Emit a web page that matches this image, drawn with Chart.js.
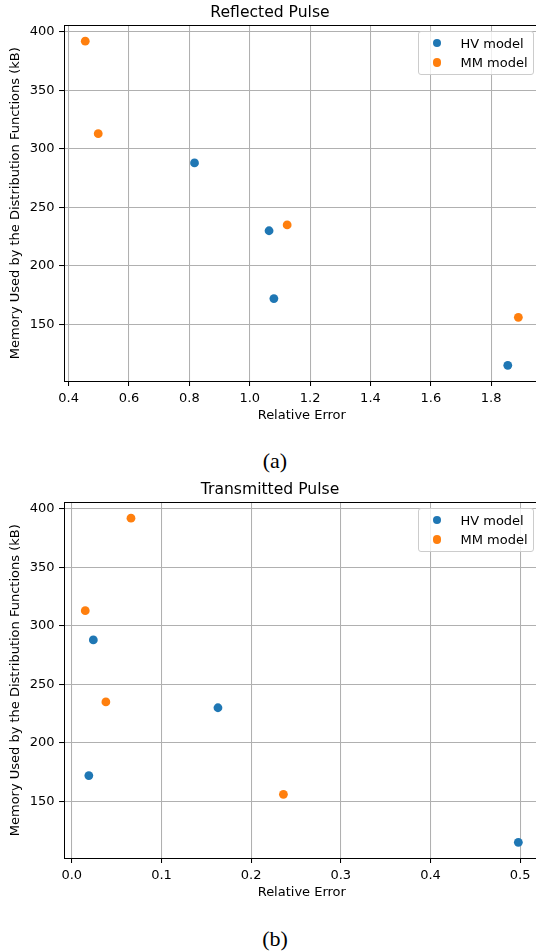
<!DOCTYPE html>
<html>
<head>
<meta charset="utf-8">
<title>Relative Error vs Memory</title>
<script src="https://cdn.jsdelivr.net/npm/chart.js@4.4.1/dist/chart.umd.min.js"></script>
<style>
    html, body {
        margin: 0;
        padding: 0;
        background: #fff;
        overflow: hidden;
    }
    #page {
        position: relative;
        width: 536px;
        height: 952px;
        overflow: hidden;
    }
    .panel {
        position: absolute;
        left: 0;
        width: 604px;
        height: 430px;
    }
    .panel canvas {
        position: absolute;
        left: 0;
        top: 0;
    }
    .legend {
        position: absolute;
        box-sizing: border-box;
        padding: 5px 5px 5px 5.2px;
        background: rgba(255, 255, 255, 0.8);
        border: 1px solid #cccccc;
        border-radius: 3px;
        font-family: 'DejaVu Sans', sans-serif;
        font-size: 13px;
        color: #000;
    }
    .legend-row {
        display: flex;
        align-items: center;
        height: 13.1px;
        line-height: 13.1px;
        white-space: nowrap;
    }
    .legend-row + .legend-row {
        margin-top: 6.5px;
    }
    .legend-handle {
        width: 26px;
        margin-right: 10.4px;
        display: flex;
        justify-content: center;
    }
    .legend-dot {
        width: 8.8px;
        height: 8.8px;
        border-radius: 50%;
    }
    .caption {
        position: absolute;
        left: 0;
        width: 550px;
        text-align: center;
        font-family: 'Liberation Serif', 'DejaVu Serif', serif;
        font-size: 22px;
        line-height: 22px;
        color: #000;
    }
</style>
</head>
<body>
<div id="page">
    <div class="panel" id="panel-a" style="top: 0px;">
        <canvas id="reflectedChart" width="604" height="430"></canvas>
    </div>
    <div class="caption" style="top: 450px;">(a)</div>

    <div class="panel" id="panel-b" style="top: 477px;">
        <canvas id="transmittedChart" width="604" height="430"></canvas>
    </div>
    <div class="caption" style="top: 928px;">(b)</div>
</div>

<script>
// Memory footprint of the distribution functions (kB), same runs in both panels
const memoryHV = [288, 230, 172, 115];
const memoryMM = [392, 313, 235, 156];

// Relative error of the reflected pulse
const reflectedErrorHV = [0.817, 1.064, 1.080, 1.855];
const reflectedErrorMM = [0.455, 0.498, 1.124, 1.890];

// Relative error of the transmitted pulse
const transmittedErrorHV = [0.024, 0.163, 0.019, 0.498];
const transmittedErrorMM = [0.066, 0.015, 0.038, 0.236];

// Tick labels
const memoryTicks = [150, 200, 250, 300, 350, 400];
const reflectedTicks = [0.4, 0.6, 0.8, 1.0, 1.2, 1.4, 1.6, 1.8];
const transmittedTicks = [0.0, 0.1, 0.2, 0.3, 0.4, 0.5];

const seriesNames = ['HV model', 'MM model'];
const seriesColors = ['#1f77b4', '#ff7f0e'];

const FONT = "'DejaVu Sans', sans-serif";
const PT = 1.3; // px per point

// Data limits with a 5% margin on each side
function paddedRange(values) {
    const lo = Math.min(...values);
    const hi = Math.max(...values);
    const pad = (hi - lo) * 0.05;
    return [lo - pad, hi + pad];
}

function toPoints(xs, ys) {
    return xs.map((x, i) => ({ x: x, y: ys[i] }));
}

// Black frame around the plot area, drawn over the markers
const framePlugin = {
    id: 'frame',
    afterDatasetsDraw(chart) {
        const { ctx, chartArea } = chart;
        const l = Math.round(chartArea.left) + 0.5;
        const t = Math.round(chartArea.top) + 0.5;
        const r = Math.round(chartArea.right) - 0.5;
        const b = Math.round(chartArea.bottom) - 0.5;
        ctx.save();
        ctx.strokeStyle = '#000';
        ctx.lineWidth = 1;
        ctx.strokeRect(l, t, r - l, b - t);
        ctx.restore();
    }
};

// Boxed legend in the upper right corner of the plot area
const boxLegendPlugin = {
    id: 'boxLegend',
    afterUpdate(chart) {
        const panel = chart.canvas.parentNode;
        let box = panel.querySelector('.legend');
        if (!box) {
            box = document.createElement('div');
            box.className = 'legend';
            panel.appendChild(box);
        }
        box.innerHTML = '';
        chart.data.datasets.forEach(ds => {
            const row = document.createElement('div');
            row.className = 'legend-row';
            const handle = document.createElement('span');
            handle.className = 'legend-handle';
            const dot = document.createElement('span');
            dot.className = 'legend-dot';
            dot.style.background = ds.backgroundColor;
            handle.appendChild(dot);
            const label = document.createElement('span');
            label.textContent = ds.label;
            row.appendChild(handle);
            row.appendChild(label);
            box.appendChild(row);
        });
        const gap = 0.5 * 13;
        box.style.top = (chart.chartArea.top + gap - 1) + 'px';
        box.style.right = (chart.width - chart.chartArea.right + gap) + 'px';
    }
};

function makeScatter(canvasId, title, errHV, errMM, xTicks) {
    const ctx = document.getElementById(canvasId).getContext('2d');
    const [xMin, xMax] = paddedRange(errHV.concat(errMM));
    const [yMin, yMax] = paddedRange(memoryHV.concat(memoryMM));

    const axisGrid = {
        color: '#b0b0b0',
        lineWidth: 0.8 * PT,
        tickColor: '#000',
        tickWidth: 0.8 * PT,
        tickLength: 3.5 * PT,
        drawTicks: true
    };

    return new Chart(ctx, {
        type: 'scatter',
        data: {
            datasets: [
                {
                    label: seriesNames[0],
                    data: toPoints(errHV, memoryHV),
                    backgroundColor: seriesColors[0],
                    borderWidth: 0,
                    pointRadius: 4.4,
                    pointHoverRadius: 4.4
                },
                {
                    label: seriesNames[1],
                    data: toPoints(errMM, memoryMM),
                    backgroundColor: seriesColors[1],
                    borderWidth: 0,
                    pointRadius: 4.4,
                    pointHoverRadius: 4.4
                }
            ]
        },
        options: {
            responsive: false,
            animation: false,
            devicePixelRatio: 1,
            layout: {
                padding: { left: 0, top: 0, right: 64, bottom: 0 }
            },
            plugins: {
                legend: { display: false },
                tooltip: { enabled: false },
                title: {
                    display: true,
                    text: title,
                    color: '#000',
                    font: { family: FONT, size: 12 * PT, weight: 'normal' },
                    padding: { top: 3.9, bottom: 2.4 }
                }
            },
            scales: {
                x: {
                    type: 'linear',
                    position: 'bottom',
                    min: xMin,
                    max: xMax,
                    border: { display: false },
                    grid: axisGrid,
                    afterBuildTicks: scale => {
                        scale.ticks = xTicks.map(v => ({ value: v }));
                    },
                    afterFit: scale => {
                        scale.height = 48.5;
                    },
                    ticks: {
                        color: '#000',
                        font: { family: FONT, size: 13 },
                        padding: 3.5 * PT,
                        maxRotation: 0,
                        autoSkip: false,
                        callback: v => v.toFixed(1)
                    },
                    title: {
                        display: true,
                        text: 'Relative Error',
                        color: '#000',
                        font: { family: FONT, size: 13 },
                        padding: { top: 0, bottom: 6.2 }
                    }
                },
                y: {
                    type: 'linear',
                    position: 'left',
                    min: yMin,
                    max: yMax,
                    border: { display: false },
                    grid: axisGrid,
                    afterBuildTicks: scale => {
                        scale.ticks = memoryTicks.map(v => ({ value: v }));
                    },
                    afterFit: scale => {
                        scale.width = 63.6;
                    },
                    ticks: {
                        color: '#000',
                        font: { family: FONT, size: 13 },
                        padding: 3.5 * PT,
                        autoSkip: false,
                        callback: v => String(v)
                    },
                    title: {
                        display: true,
                        text: 'Memory Used by the Distribution Functions (kB)',
                        color: '#000',
                        font: { family: FONT, size: 13 },
                        padding: { top: 7.7, bottom: 0 }
                    }
                }
            }
        },
        plugins: [framePlugin, boxLegendPlugin]
    });
}

window.onload = () => {
    makeScatter('reflectedChart', 'Reflected Pulse',
        reflectedErrorHV, reflectedErrorMM, reflectedTicks);
    makeScatter('transmittedChart', 'Transmitted Pulse',
        transmittedErrorHV, transmittedErrorMM, transmittedTicks);
};
</script>
</body>
</html>
